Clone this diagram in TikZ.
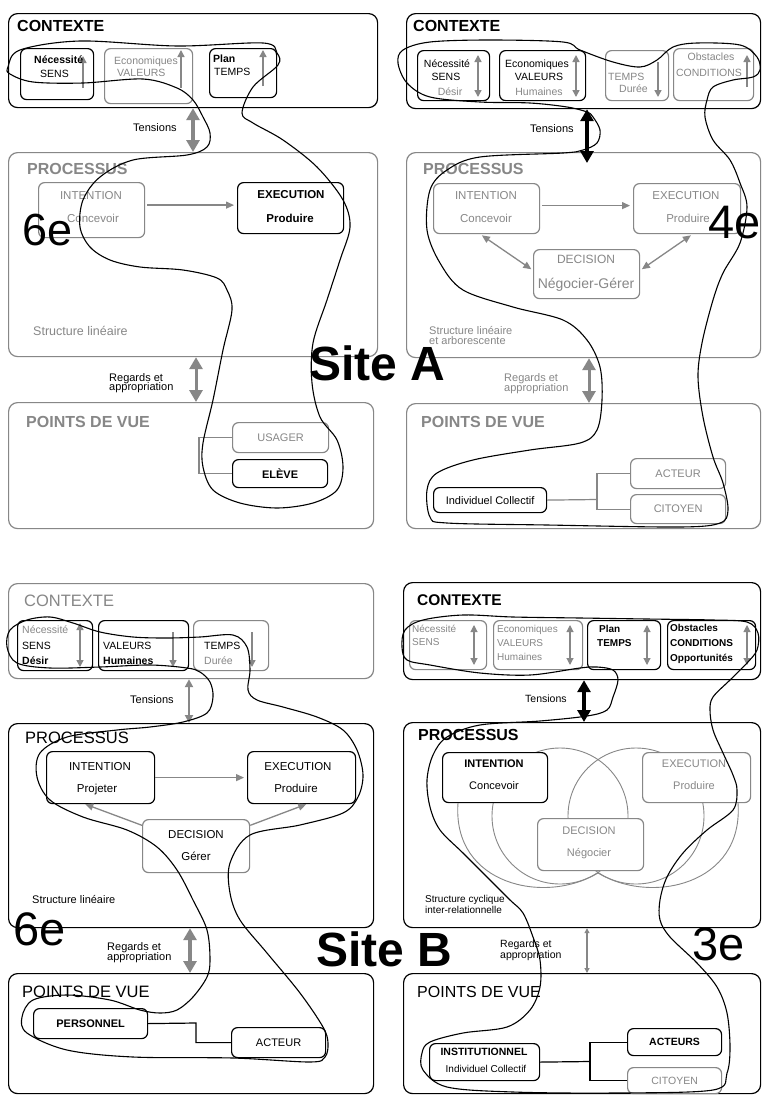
\documentclass[tikz,border=0pt]{standalone}
\usepackage{fontspec}
\setmainfont{Liberation Sans}
\usetikzlibrary{arrows.meta,calc}
\definecolor{gr}{gray}{0.53}
\newcommand{\fs}[1]{\fontsize{#1}{#1}\selectfont}
\begin{document}
\begin{tikzpicture}[x=1pt,y=-1pt,
  bk/.style={draw=black,line width=1.2pt,rounded corners=6pt,fill=white,inner sep=0pt,anchor=north west},
  gb/.style={bk,draw=gr},
  lb/.style={inner sep=0pt,anchor=base west},
  lbc/.style={inner sep=0pt,anchor=base},
  hand/.style={draw=black,line width=1.1pt},
  thk/.style={line width=4pt,{Triangle[length=12pt,width=13pt]}-{Triangle[length=12pt,width=13pt]}},
  med/.style={line width=2pt,{Triangle[length=8pt,width=8pt]}-{Triangle[length=8pt,width=8pt]}},
  thn/.style={line width=1.1pt,{Triangle[length=5pt,width=5pt]}-{Triangle[length=5pt,width=5pt]}},
  uparr/.style={draw=gr,line width=1.5pt,-{Triangle[length=7pt,width=7pt]}},
  dbl/.style={draw=gr,line width=1.5pt,{Triangle[length=7pt,width=7pt]}-{Triangle[length=7pt,width=7pt]}},
  parr/.style={draw=gr,line width=1.3pt,-{Triangle[length=8pt,width=7pt]}},
  parrr/.style={draw=gr,line width=1.3pt,{Triangle[length=8pt,width=7pt]}-{Triangle[length=8pt,width=7pt]}},
  cn/.style={draw=gr,line width=1.2pt},
  cnb/.style={draw=black,line width=1.2pt},
  gv/.style={draw=gr,line width=0.9pt}
]
\useasboundingbox (0,0) rectangle (763,1095);
\fill[white] (0,0) rectangle (763,1095);

%================ TOP LEFT =================
\node[bk,minimum width=369pt,minimum height=94pt,rounded corners=9pt] (ctxA1) at (8,13) {};
\node[bk,minimum width=73pt,minimum height=51pt] (sensA) at (20,48) {};
\node[gb,minimum width=88pt,minimum height=55pt] (valA) at (104,48) {};
\node[bk,minimum width=67pt,minimum height=49pt] (tempsA) at (209,48) {};
\draw[uparr] (83,88) -- (83,56);
\draw[uparr] (181,88) -- (181,50);
\draw[uparr] (263,86) -- (263,50);
\node[lb,font=\fs{16}\bfseries] (tCA1) at (17,31) {CONTEXTE};
\node[lb,font=\fs{10.5}\bfseries] (nA1) at (34,63) {Nécessité};
\node[lb,font=\fs{10.5}] (nA2) at (40,77) {SENS};
\node[lb,font=\fs{10.5},text=gr] (nA3) at (114,64) {Economiques};
\node[lb,font=\fs{10.5},text=gr] (nA4) at (117,76) {VALEURS};
\node[lb,font=\fs{10.5}\bfseries] (nA5) at (213,62) {Plan};
\node[lb,font=\fs{10.5}] (nA6) at (214,75) {TEMPS};

\node[gb,minimum width=369pt,minimum height=204pt,rounded corners=9pt] (procA1) at (8,152) {};
\node[gb,minimum width=106pt,minimum height=55pt] (intA) at (38,182) {};
\node[bk,minimum width=106pt,minimum height=51pt] (exeA) at (237,182) {};
\node[lb,font=\fs{16}\bfseries,text=gr] (tPA1) at (27,174) {PROCESSUS};
\node[lbc,font=\fs{11.5},text=gr] (iA1) at (91,199) {INTENTION};
\node[lbc,font=\fs{11.5},text=gr] (iA2) at (93,222) {Concevoir};
\node[lbc,font=\fs{11.5}\bfseries] (eA1) at (291,198) {EXECUTION};
\node[lbc,font=\fs{11.5}\bfseries] (eA2) at (290,222) {Produire};
\path (intA.east) ++(2,-5) coordinate (aA1);
\draw[parr,shorten >=3pt] (aA1) -- (aA1 -| exeA.west);
\node[lb,font=\fs{12.5},text=gr] (sA) at (33,335) {Structure linéaire};

\coordinate (xA1) at (193,0);
\draw[thk,gr] (ctxA1.south -| xA1) -- (procA1.north -| xA1);
\node[lb,font=\fs{11}] (tensA) at (133,131) {Tensions};

\node[gb,minimum width=365pt,minimum height=126pt,rounded corners=9pt] (ptsA1) at (8,402) {};
\node[lb,font=\fs{16}\bfseries,text=gr] (tVA1) at (26,427) {POINTS DE VUE};
\node[gb,minimum width=96pt,minimum height=30pt,font=\fs{11},text=gr] (usager) at (232,422) {USAGER};
\node[bk,minimum width=95pt,minimum height=28pt,font=\fs{11}\bfseries] (eleve) at (232,459) {ELÈVE};
\draw[cn] (usager.west) -- ++(-33,0) |- (eleve.west);

\coordinate (xA2) at (196,0);
\draw[thk,gr,line width=3pt] (procA1.south -| xA2) -- (ptsA1.north -| xA2);
\node[lb,font=\fs{11}] (rA1) at (109,381) {Regards et};
\node[lb,font=\fs{11}] (rA2) at (109,390) {appropriation};

\node[lb,font=\fs{45}] (sixA) at (22,245) {6e};

%================ TOP RIGHT =================
\node[bk,minimum width=354pt,minimum height=95pt,rounded corners=9pt] (ctxA2) at (406,13) {};
\node[bk,minimum width=72pt,minimum height=50pt] (sensB) at (417,50) {};
\node[bk,minimum width=86pt,minimum height=50pt] (valB) at (499,50) {};
\node[gb,minimum width=63pt,minimum height=50pt] (tempsB) at (605,50) {};
\node[gb,minimum width=80pt,minimum height=52pt] (condB) at (673,48) {};
\draw[dbl] (478,55) -- (478,97);
\draw[dbl] (576,55) -- (576,97);
\draw[uparr] (658,62) -- (658,97);
\draw[uparr] (747,87) -- (747,55);
\node[lb,font=\fs{16}\bfseries] (tCA2) at (413,31) {CONTEXTE};
\node[lbc,font=\fs{10.5}] (nB1) at (447,67) {Nécessité};
\node[lbc,font=\fs{10.5}] (nB2) at (446,80) {SENS};
\node[lbc,font=\fs{10.5},text=gr] (nB3) at (450,95) {Désir};
\node[lbc,font=\fs{10.5}] (nB4) at (537,67) {Economiques};
\node[lbc,font=\fs{10.5}] (nB5) at (539,80) {VALEURS};
\node[lbc,font=\fs{10.5},text=gr] (nB6) at (539,95) {Humaines};
\node[lb,font=\fs{10.5},text=gr] (nB7) at (608,80) {TEMPS};
\node[lb,font=\fs{10.5},text=gr] (nB8) at (619,92) {Durée};
\node[lbc,font=\fs{10.5},text=gr] (nB9) at (711,60) {Obstacles};
\node[lbc,font=\fs{10.5},text=gr] (nB10) at (709,76) {CONDITIONS};

\node[gb,minimum width=354pt,minimum height=205pt,rounded corners=9pt] (procA2) at (406,152) {};
\node[gb,minimum width=106pt,minimum height=50pt] (intB) at (433,183) {};
\node[gb,minimum width=107pt,minimum height=50pt] (exeB) at (633,183) {};
\node[gb,minimum width=106pt,minimum height=49pt] (decB) at (533,249) {};
\node[lb,font=\fs{16}\bfseries,text=gr] (tPA2) at (423,174) {PROCESSUS};
\node[lbc,font=\fs{11.5},text=gr] (iB1) at (486,199) {INTENTION};
\node[lbc,font=\fs{11.5},text=gr] (iB2) at (486,222) {Concevoir};
\node[lbc,font=\fs{11.5},text=gr] (eB1) at (686,199) {EXECUTION};
\node[lbc,font=\fs{11.5},text=gr] (eB2) at (688,222) {Produire};
\node[lbc,font=\fs{12},text=gr] (dB1) at (586,263) {DECISION};
\node[lbc,font=\fs{14},text=gr] (dB2) at (586,288) {Négocier-Gérer};
\path (intB.east) ++(2,-3) coordinate (aB1);
\draw[parr,shorten >=3pt] (aB1) -- (aB1 -| exeB.west);
\draw[parrr,shorten <=2pt,shorten >=2pt] (intB.256) -- (decB.176);
\draw[parrr,shorten <=2pt,shorten >=2pt] (exeB.282) -- (decB.4);
\node[lb,font=\fs{11},text=gr] (sB1) at (429,334) {Structure linéaire};
\node[lb,font=\fs{11},text=gr] (sB2) at (429,344) {et arborescente};

\coordinate (xB1) at (587,0);
\path (procA2.north -| xB1) ++(0,11) coordinate (tipB);
\draw[thk,black] (ctxA2.south -| xB1) -- (tipB);
\node[lb,font=\fs{11}] (tensB) at (530,132) {Tensions};

\node[gb,minimum width=354pt,minimum height=125pt,rounded corners=9pt] (ptsA2) at (406,403) {};
\node[lb,font=\fs{16}\bfseries,text=gr] (tVA2) at (421,427) {POINTS DE VUE};
\node[bk,minimum width=113pt,minimum height=25pt,font=\fs{11}] (indB) at (433,487) {Individuel Collectif};
\node[gb,minimum width=95pt,minimum height=30pt,font=\fs{11},text=gr] (acteurB) at (630,458) {ACTEUR};
\node[gb,minimum width=95pt,minimum height=29pt,font=\fs{11},text=gr] (citoyenB) at (630,494) {CITOYEN};
\coordinate (jB) at (597,499.5);
\draw[cn] (indB.east) -- (jB);
\draw[cn] (acteurB.west) -| (jB) |- (citoyenB.west);

\coordinate (xB2) at (589,0);
\draw[thk,gr,line width=3pt] (procA2.south -| xB2) -- (ptsA2.north -| xB2);
\node[lb,font=\fs{11},text=gr] (rB1) at (504,381) {Regards et};
\node[lb,font=\fs{11},text=gr] (rB2) at (504,391) {appropriation};

\node[lb,font=\fs{47}] (quatre) at (708,238) {4e};
\node[lb,font=\fs{48}\bfseries] (siteA) at (309,380) {Site A};

%================ BOTTOM LEFT =================
\node[gb,minimum width=365pt,minimum height=95pt,rounded corners=9pt] (ctxB1) at (8,583) {};
\node[bk,minimum width=75pt,minimum height=50pt] (sensC) at (17,620) {};
\node[bk,minimum width=90pt,minimum height=50pt] (valC) at (98,620) {};
\node[gb,minimum width=75pt,minimum height=50pt] (tempsC) at (193,620) {};
\draw[dbl] (80,623) -- (80,667);
\draw[uparr] (173,632) -- (173,667);
\draw[uparr] (252,632) -- (252,667);
\node[lb,font=\fs{16.5},text=gr] (tCB1) at (24,606) {CONTEXTE};
\node[lb,font=\fs{10.5},text=gr] (nC1) at (22,633) {Nécessité};
\node[lb,font=\fs{10.5}] (nC2) at (22,649) {SENS};
\node[lb,font=\fs{10.5}\bfseries] (nC3) at (22,664) {Désir};
\node[lb,font=\fs{10.5}] (nC4) at (103,649) {VALEURS};
\node[lb,font=\fs{10.5}\bfseries] (nC5) at (103,664) {Humaines};
\node[lb,font=\fs{10.5}] (nC6) at (204,649) {TEMPS};
\node[lb,font=\fs{10.5},text=gr] (nC7) at (204,664) {Durée};

\node[bk,minimum width=365pt,minimum height=204pt,rounded corners=9pt] (procB1) at (8,723) {};
\node[bk,minimum width=108pt,minimum height=52pt] (intC) at (46,751) {};
\node[bk,minimum width=108pt,minimum height=52pt] (exeC) at (247,751) {};
\node[gb,minimum width=107pt,minimum height=53pt] (decC) at (142,819) {};
\node[lb,font=\fs{16.5}] (tPB1) at (25,743) {PROCESSUS};
\node[lbc,font=\fs{11.5}] (iC1) at (100,770) {INTENTION};
\node[lbc,font=\fs{11.5}] (iC2) at (97,792) {Projeter};
\node[lbc,font=\fs{11.5}] (eC1) at (298,770) {EXECUTION};
\node[lbc,font=\fs{11.5}] (eC2) at (296,792) {Produire};
\node[lbc,font=\fs{11.5}] (dC1) at (196,838) {DECISION};
\node[lbc,font=\fs{11.5}] (dC2) at (196,860) {Gérer};
\draw[parr,shorten >=3pt] (intC.east) -- (exeC.west);
\draw[parr] (decC.159) -- (intC.240);
\draw[parr] (decC.21) -- (exeC.280);
\node[lb,font=\fs{11}] (sC) at (32,903) {Structure linéaire};

\coordinate (xC1) at (189,0);
\draw[med,gr] (ctxB1.south -| xC1) -- (procB1.north -| xC1);
\node[lb,font=\fs{11}] (tensC) at (130,703) {Tensions};

\node[bk,minimum width=365pt,minimum height=120pt,rounded corners=9pt] (ptsB1) at (8,973) {};
\node[lb,font=\fs{16.5}] (tVB1) at (22,997) {POINTS DE VUE};
\node[bk,minimum width=114pt,minimum height=30pt,font=\fs{11}\bfseries] (persC) at (33,1008) {PERSONNEL};
\node[bk,minimum width=94pt,minimum height=30pt,font=\fs{11}] (acteurC) at (231,1027) {ACTEUR};
\coordinate (jC) at (196,1023);
\draw[cnb] (persC.east) -- (jC) |- (acteurC.west);

\coordinate (xC2) at (190,0);
\draw[thk,gr] (procB1.south -| xC2) -- (ptsB1.north -| xC2);
\node[lb,font=\fs{11}] (rC1) at (107,950) {Regards et};
\node[lb,font=\fs{11}] (rC2) at (107,960) {appropriation};

\node[lb,font=\fs{47}] (sixB) at (13,945) {6e};
\node[lb,font=\fs{48}\bfseries] (siteB) at (316,966) {Site B};

%================ BOTTOM RIGHT =================
\node[bk,minimum width=357pt,minimum height=97pt,rounded corners=9pt] (ctxB2) at (403,582) {};
\node[gb,minimum width=77pt,minimum height=49pt] (sensD) at (409,620) {};
\node[gb,minimum width=89pt,minimum height=49pt] (valD) at (493,620) {};
\node[bk,minimum width=73pt,minimum height=49pt] (tempsD) at (587,620) {};
\node[bk,minimum width=88pt,minimum height=49pt] (condD) at (667,620) {};
\draw[dbl,line width=1.1pt] (474,625) -- (474,665);
\draw[dbl,line width=1.1pt] (570,625) -- (570,665);
\draw[dbl,line width=1.1pt] (647,625) -- (647,665);
\draw[dbl,line width=1.1pt] (747,625) -- (747,665);
\node[lb,font=\fs{15.5}\bfseries] (tCB2) at (417,605) {CONTEXTE};
\node[lb,font=\fs{10},text=gr] (nD1) at (412,632) {Nécessité};
\node[lb,font=\fs{10},text=gr] (nD2) at (412,645) {SENS};
\node[lb,font=\fs{10},text=gr] (nD3) at (497,632) {Economiques};
\node[lb,font=\fs{10},text=gr] (nD4) at (497,646) {VALEURS};
\node[lb,font=\fs{10},text=gr] (nD5) at (497,660) {Humaines};
\node[lb,font=\fs{10}\bfseries] (nD6) at (599,632) {Plan};
\node[lb,font=\fs{10}\bfseries] (nD7) at (597,646) {TEMPS};
\node[lb,font=\fs{10}\bfseries] (nD8) at (670,631) {Obstacles};
\node[lb,font=\fs{10}\bfseries] (nD9) at (670,646) {CONDITIONS};
\node[lb,font=\fs{10}\bfseries] (nD10) at (670,661) {Opportunités};

\node[bk,minimum width=357pt,minimum height=205pt,rounded corners=9pt] (procB2) at (403,722) {};
\draw[gv] (560,816) circle[radius=68];
\draw[gv] (636,816) circle[radius=68];
\draw[gv] (458,803) .. controls (452,885) and (545,905) .. (598,873);
\draw[gv] (738,803) .. controls (744,885) and (651,905) .. (598,873);
\node[bk,minimum width=105pt,minimum height=50pt] (intD) at (442,752) {};
\node[gb,minimum width=108pt,minimum height=50pt] (exeD) at (642,752) {};
\node[gb,minimum width=106pt,minimum height=52pt] (decD) at (537,818) {};
\node[lb,font=\fs{16}\bfseries] (tPB2) at (418,740) {PROCESSUS};
\node[lbc,font=\fs{11}\bfseries] (iD1) at (494,767) {INTENTION};
\node[lbc,font=\fs{11}] (iD2) at (494,789) {Concevoir};
\node[lbc,font=\fs{11},text=gr] (eD1) at (694,767) {EXECUTION};
\node[lbc,font=\fs{11},text=gr] (eD2) at (694,789) {Produire};
\node[lbc,font=\fs{11},text=gr] (dD1) at (589,834) {DECISION};
\node[lbc,font=\fs{11},text=gr] (dD2) at (589,856) {Négocier};
\node[lb,font=\fs{10}] (sD1) at (425,902) {Structure cyclique};
\node[lb,font=\fs{10}] (sD2) at (425,913) {inter-relationnelle};

\coordinate (xD1) at (584,0);
\draw[thk,black] (ctxB2.south -| xD1) -- (procB2.north -| xD1);
\node[lb,font=\fs{10.5}] (tensD) at (525,702) {Tensions};

\node[bk,minimum width=357pt,minimum height=120pt,rounded corners=9pt] (ptsB2) at (403,973) {};
\node[lb,font=\fs{16}] (tVB2) at (417,997) {POINTS DE VUE};
\node[bk,minimum width=110pt,minimum height=37pt] (instD) at (429,1043) {};
\node[lbc,font=\fs{10.5}\bfseries] (inD1) at (484,1055) {INSTITUTIONNEL};
\node[lbc,font=\fs{10}] (inD2) at (486,1072) {Individuel Collectif};
\node[bk,minimum width=94pt,minimum height=27pt,font=\fs{10.5}\bfseries] (acteursD) at (627,1028) {ACTEURS};
\node[gb,minimum width=94pt,minimum height=26pt,font=\fs{10.5},text=gr] (citoyenD) at (627,1067) {CITOYEN};
\coordinate (jD) at (590,1061.5);
\draw[cnb] (instD.east) -- (jD);
\draw[cnb] (acteursD.west) -| (jD) |- (citoyenD.west);

\coordinate (xD2) at (587,0);
\draw[thn,gr] (procB2.south -| xD2) -- (ptsB2.north -| xD2);
\node[lb,font=\fs{10.5}] (rD1) at (500,947) {Regards et};
\node[lb,font=\fs{10.5}] (rD2) at (500,958) {appropriation};

\node[lb,font=\fs{47}] (trois) at (692,960) {3e};

%================ HAND-DRAWN LOOPS =================
\draw[hand] plot[smooth cycle,tension=0.55] coordinates {(8,67) (20,50) (80,41) (177,46) (263,43) (277,53) (278,65) (253,87) (242,113) (253,123) (283,140) (317,167) (343,200) (350,227) (340,260) (327,300) (313,343) (312,383) (320,417) (337,440) (343,467) (337,490) (313,503) (277,508) (240,503) (213,490) (203,467) (203,443) (213,400) (223,350) (232,310) (227,290) (217,278) (183,270) (140,267) (110,260) (90,247) (80,227) (83,200) (100,177) (133,160) (187,155) (207,147) (210,133) (203,117) (193,100) (177,88) (143,79) (83,83) (33,82) (10,74)};

\draw[hand] plot[smooth cycle,tension=0.55] coordinates {(398,63) (403,50) (430,42) (490,40) (563,42) (580,50) (613,62) (640,67) (657,60) (673,47) (697,43) (740,45) (757,57) (760,70) (753,77) (733,80) (713,87) (707,100) (705,117) (713,140) (730,160) (740,183) (747,207) (740,243) (723,273) (713,300) (702,343) (698,377) (703,417) (713,457) (723,483) (728,510) (720,523) (680,527) (547,525) (447,523) (430,517) (427,490) (437,473) (473,460) (530,450) (580,443) (597,430) (602,400) (600,367) (587,340) (563,320) (513,307) (463,290) (440,263) (427,230) (430,190) (447,170) (480,157) (563,153) (583,150) (597,143) (600,130) (593,117) (587,112) (567,107) (530,103) (480,102) (430,97) (407,83)};

\draw[hand] plot[smooth cycle,tension=0.55] coordinates {(7,647) (10,630) (27,620) (50,617) (73,623) (100,632) (133,637) (167,638) (200,637) (233,635) (247,647) (250,670) (248,690) (257,700) (283,707) (317,717) (343,730) (357,750) (363,775) (358,797) (343,813) (300,825) (250,835) (230,863) (230,893) (240,920) (267,953) (300,993) (323,1027) (328,1043) (325,1057) (310,1062) (233,1058) (133,1057) (67,1050) (27,1033) (22,1017) (33,1000) (67,995) (110,1000) (140,1010) (160,1013) (177,1010) (193,997) (207,977) (210,960) (207,930) (193,900) (177,870) (157,847) (127,830) (83,817) (50,800) (37,777) (40,753) (67,737) (117,730) (150,727) (183,722) (207,713) (213,697) (210,682) (200,672) (187,668) (150,665) (100,667) (50,668) (17,663)};

\draw[hand] plot[smooth cycle,tension=0.55] coordinates {(402,647) (405,630) (423,620) (463,615) (513,617) (580,618) (647,619) (713,620) (747,622) (758,633) (757,650) (747,663) (730,680) (713,697) (710,710) (713,730) (723,753) (733,775) (737,790) (733,810) (707,830) (683,853) (667,877) (660,900) (660,920) (670,937) (697,963) (717,987) (727,1013) (730,1047) (727,1073) (713,1090) (613,1093) (513,1092) (447,1087) (423,1070) (422,1053) (430,1042) (463,1033) (507,1027) (530,1010) (540,987) (540,960) (533,937) (523,913) (510,900) (490,880) (463,853) (440,830) (430,807) (427,780) (433,755) (447,737) (480,725) (540,721) (587,716) (607,710) (613,697) (618,680) (613,670) (597,667) (580,668) (530,675) (480,673) (430,665) (407,660)};
\end{tikzpicture}
\end{document}
